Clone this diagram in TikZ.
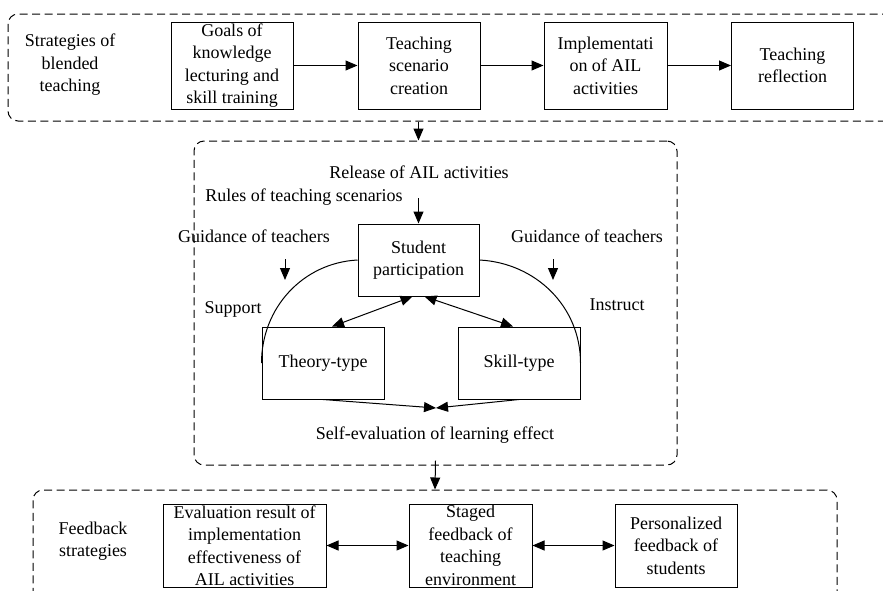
\documentclass[tikz,border=0pt]{standalone}
\usepackage{fontspec}
\setmainfont{Liberation Serif}
\usetikzlibrary{arrows.meta}

\begin{document}
\begin{tikzpicture}[x=1pt,y=-1pt,line width=1pt,
  txt/.style={align=center,inner sep=0pt,font=\fontsize{18}{22.5}\selectfont},
  box/.style={txt,draw,minimum width=122pt,minimum height=87pt},
  group/.style={draw,dash pattern=on 8pt off 4.5pt,rounded corners=10pt},
  arr/.style={-{Triangle[length=12pt,width=10pt]}},
  darr/.style={{Triangle[length=12pt,width=10pt]}-{Triangle[length=12pt,width=10pt]}}]
\clip (0,0) rectangle (883,590);
%================================================================
%	Dashed groups
\node[group,minimum width=892pt,minimum height=107pt] (topgrp) at (454,67.5) {};
\node[group,minimum width=483pt,minimum height=324pt] (midgrp) at (435.5,303) {};
\node[group,minimum width=804pt,minimum height=130pt] (botgrp) at (435,555) {};

%================================================================
%	Strategies of blended teaching
\node[txt] (strat) at (70,65) {Strategies of\\blended\\teaching};
%----------------------------------------------------------------
\node[box] (goals) at (232,65.5) {Goals of\\knowledge\\lecturing and\\skill training};
\node[box] (scene) at (419,65.5) {Teaching\\scenario\\creation};
\node[box,minimum width=123pt] (implement) at (605.5,65.5) {Implementati\\on of AIL\\activities};
\node[box] (reflect) at (792.5,65.5) {Teaching\\reflection};
%----------------------------------------------------------------
\draw[arr] (goals) -- (scene);
\draw[arr] (scene) -- (implement);
\draw[arr] (implement) -- (reflect);

%================================================================
%	Student participation
\node[txt] (release) at (419,172) {Release of AIL activities};
\node[txt] (rules) at (304,197) {Rules of teaching scenarios};
\node[box,minimum width=121pt,minimum height=72pt] (student) at (418.5,260) {Student\\participation};
\node[txt] (guideL) at (254,236) {Guidance of teachers};
\node[txt] (guideR) at (587,236) {Guidance of teachers};
\node[txt] (support) at (233,309) {Support};
\node[txt] (instruct) at (617,305) {Instruct};
\node[box,minimum height=72pt] (theory) at (323,363) {Theory-type};
\node[box,minimum height=72pt] (skill) at (519,363) {Skill-type};
\node[txt] (selfeval) at (435,435) {Self-evaluation of learning effect};
%----------------------------------------------------------------
\coordinate (relfoot) at (418.5,198);
\coordinate (gLtop) at (285,259);
\coordinate (gLbot) at (285,280);
\coordinate (gRtop) at (553,259);
\coordinate (gRbot) at (553,280);
\coordinate (meet) at (436,408);
%----------------------------------------------------------------
\draw[arr] (topgrp.south -| student) -- (midgrp.north -| student);
\draw[arr] (relfoot) -- (student.north);
\draw[arr] (gLtop) -- (gLbot);
\draw[arr] (gRtop) -- (gRbot);
\draw (student.west) to[out=183,in=90] (theory.west);
\draw (student.east) to[out=-3,in=90] (skill.east);
\draw[darr] ([xshift=-6pt]student.south) -- ([xshift=9pt]theory.north);
\draw[darr] ([xshift=6pt]student.south) -- ([xshift=-6pt]skill.north);
\draw[arr] (theory.south) -- (meet);
\draw[arr] (skill.south) -- (meet);
\draw[arr] ([yshift=5pt]midgrp.south) -- (botgrp.north);

%================================================================
%	Feedback strategies
\node[txt] (feedback) at (93,541) {Feedback\\strategies};
%----------------------------------------------------------------
\node[box,minimum width=163pt,minimum height=83pt] (evalres) at (244.5,545.5) {Evaluation result of\\implementation\\effectiveness of\\AIL activities};
\node[box,minimum width=123pt,minimum height=83pt] (staged) at (470.5,545.5) {Staged\\feedback of\\teaching\\environment};
\node[box,minimum height=83pt] (personal) at (676,545.5) {Personalized\\feedback of\\students};
%----------------------------------------------------------------
\draw[darr] (evalres) -- (staged);
\draw[darr] (staged) -- (personal);
%================================================================
\end{tikzpicture}
\end{document}
